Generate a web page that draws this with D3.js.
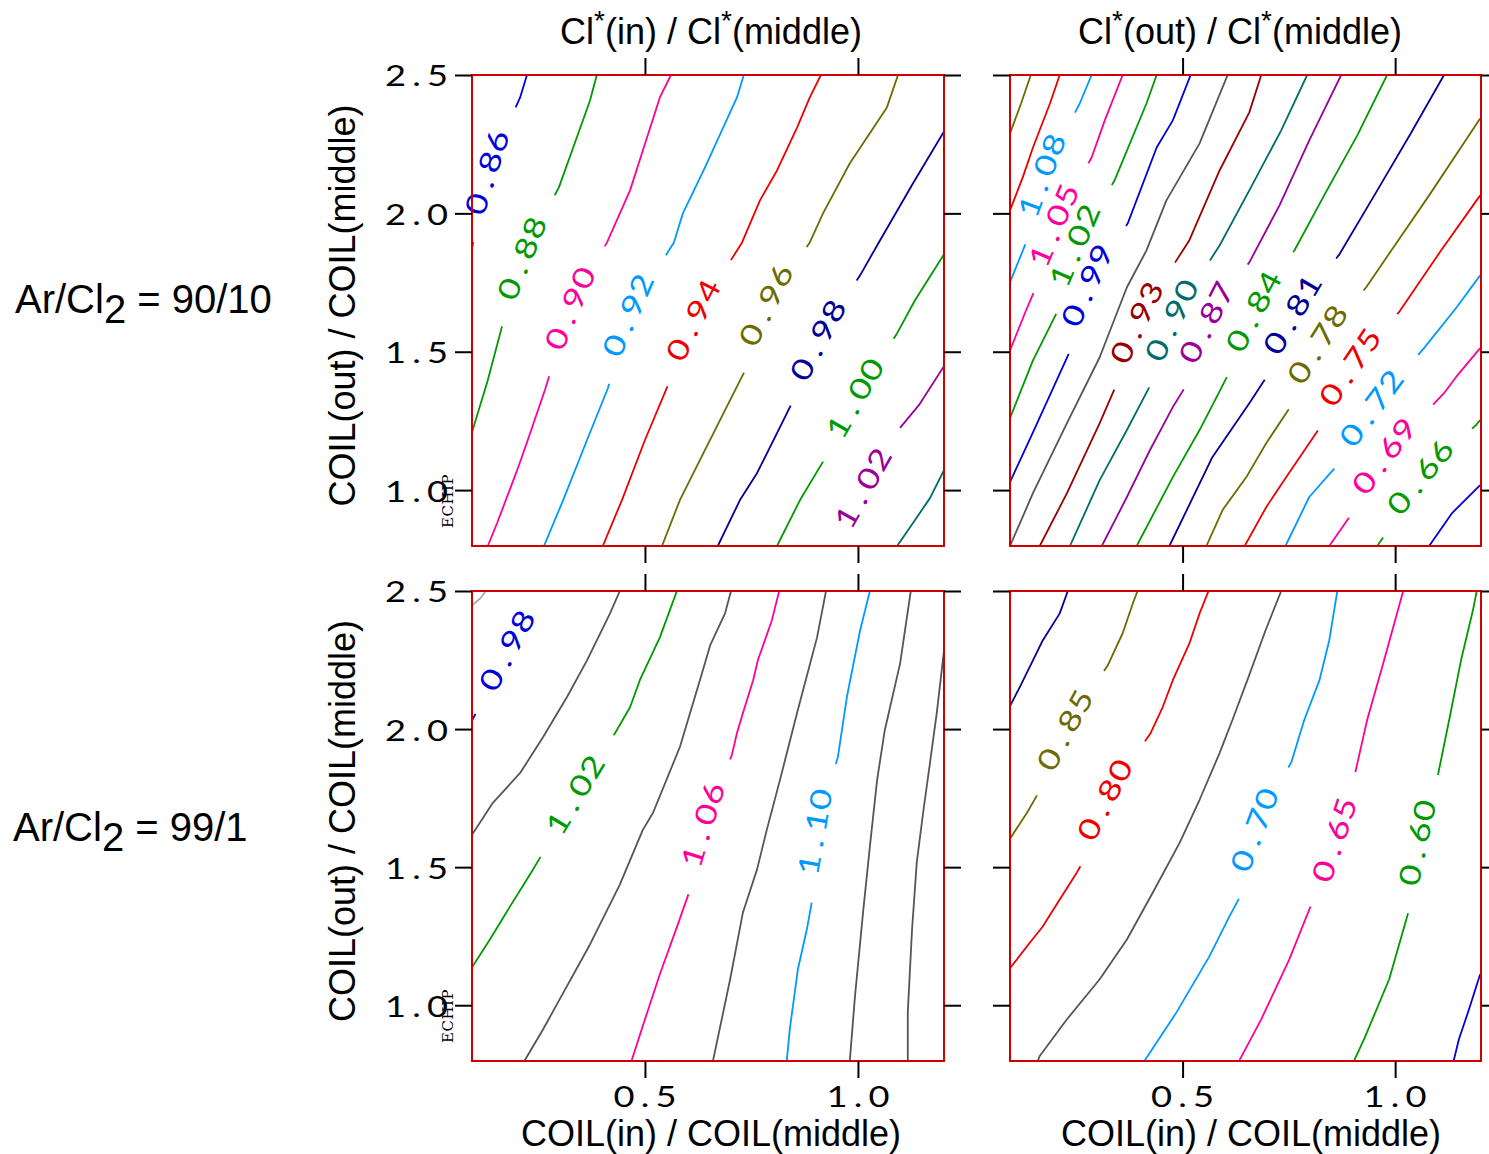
<!DOCTYPE html>
<html>
<head>
<meta charset="utf-8">
<script src="https://cdn.jsdelivr.net/npm/d3@7"></script>
<style>
  html, body { margin: 0; background: #fff; }
  svg { display: block; }
  .title { font-family: "Liberation Sans", Arial, Helvetica, sans-serif; fill: #000; }
  .mono { font-family: Lato, "DejaVu Sans", sans-serif; font-weight: 400; }
</style>
</head>
<body>
<svg id="chart" width="1489" height="1154"></svg>
<script>
// ---- axes ----
const X_DOMAIN = [0.094, 1.202];
const Y_DOMAIN = [0.798, 2.5];
const X_TICKS = [0.5, 1.0];
const Y_TICKS = [1.0, 1.5, 2.0, 2.5];

// ---- contour lines, [COIL(in)/COIL(middle), COIL(out)/COIL(middle)] ----
// "at" = index of the vertex where the level label sits
const contoursA = [ // Ar/Cl2 = 90/10, Cl*(in)/Cl*(middle)
  { level: 0.86, at: 2, pts: [[0.094,1.874],[0.108,1.993],[0.129,2.148],[0.167,2.282],[0.207,2.419],[0.223,2.5]] },
  { level: 0.88, at: 3, pts: [[0.094,1.209],[0.131,1.397],[0.167,1.606],[0.211,1.838],[0.298,2.094],[0.340,2.274],[0.371,2.408],[0.387,2.5]] },
  { level: 0.90, at: 5, pts: [[0.131,0.798],[0.153,0.881],[0.200,1.072],[0.225,1.181],[0.265,1.361],[0.324,1.657],[0.411,1.895],[0.465,2.083],[0.495,2.227],[0.535,2.419],[0.561,2.5]] },
  { level: 0.92, at: 4, pts: [[0.263,0.798],[0.308,0.964],[0.364,1.181],[0.413,1.368],[0.460,1.632],[0.568,1.895],[0.589,2.0],[0.641,2.166],[0.716,2.419],[0.732,2.5]] },
  { level: 0.94, at: 4, pts: [[0.401,0.798],[0.446,0.964],[0.5,1.181],[0.554,1.379],[0.613,1.614],[0.728,1.895],[0.770,2.047],[0.810,2.155],[0.857,2.310],[0.887,2.419],[0.913,2.5]] },
  { level: 0.96, at: 5, pts: [[0.540,0.798],[0.582,0.964],[0.629,1.108],[0.688,1.289],[0.739,1.444],[0.784,1.668],[0.887,1.895],[0.918,2.0],[0.981,2.181],[1.068,2.383],[1.094,2.5]] },
  { level: 0.98, at: 5, pts: [[0.671,0.798],[0.723,0.964],[0.763,1.061],[0.810,1.206],[0.852,1.336],[0.906,1.542],[1.005,1.776],[1.052,1.903],[1.129,2.108],[1.202,2.296]] },
  { level: 1.00, at: 3, pts: [[0.810,0.798],[0.864,0.964],[0.927,1.126],[0.993,1.332],[1.092,1.567],[1.134,1.686],[1.202,1.852]] },
  { level: 1.02, at: 1, pts: [[0.969,0.866],[1.012,1.007],[1.075,1.181],[1.143,1.307],[1.202,1.448]] },
  { level: 1.04, at: null, pts: [[1.092,0.798],[1.134,0.892],[1.169,0.971],[1.202,1.072]] }
];
const colorsA = ["blue","green","pink","sky","red","olive","navy","green","purple","teal"];

const contoursB = [ // Ar/Cl2 = 90/10, Cl*(out)/Cl*(middle)
  { level: 0.63, at: null, pts: [[1.080,0.798],[1.134,0.917],[1.200,1.018]] },
  { level: 0.66, at: 2, pts: [[0.958,0.798],[0.979,0.845],[1.059,1.047],[1.190,1.235],[1.200,1.253]] },
  { level: 0.69, at: 2, pts: [[0.845,0.798],[0.899,0.917],[0.974,1.123],[1.115,1.350],[1.143,1.408],[1.200,1.513]] },
  { level: 0.72, at: 3, pts: [[0.742,0.798],[0.798,0.975],[0.864,1.090],[0.944,1.296],[1.068,1.513],[1.143,1.657],[1.200,1.776]] },
  { level: 0.75, at: 4, pts: [[0.646,0.798],[0.697,0.939],[0.744,1.047],[0.822,1.224],[0.894,1.444],[1.009,1.643],[1.108,1.866],[1.200,2.065]] },
  { level: 0.78, at: 5, pts: [[0.556,0.798],[0.594,0.928],[0.650,1.047],[0.697,1.170],[0.756,1.307],[0.817,1.527],[0.932,1.733],[0.991,1.866],[1.080,2.065],[1.200,2.343]] },
  { level: 0.81, at: 4, pts: [[0.469,0.798],[0.570,1.119],[0.657,1.314],[0.700,1.415],[0.758,1.635],[0.869,1.852],[0.958,2.083],[1.038,2.292],[1.115,2.5]] },
  { level: 0.84, at: 4, pts: [[0.392,0.798],[0.477,1.047],[0.540,1.217],[0.610,1.426],[0.667,1.646],[0.763,1.866],[0.833,2.065],[0.911,2.282],[0.981,2.5]] },
  { level: 0.87, at: 5, pts: [[0.310,0.798],[0.369,0.975],[0.423,1.144],[0.477,1.300],[0.516,1.397],[0.556,1.606],[0.657,1.823],[0.728,2.029],[0.798,2.264],[0.873,2.5]] },
  { level: 0.90, at: 4, pts: [[0.235,0.798],[0.305,1.036],[0.369,1.217],[0.434,1.408],[0.474,1.614],[0.587,1.884],[0.657,2.083],[0.732,2.300],[0.793,2.5]] },
  { level: 0.93, at: 4, pts: [[0.164,0.798],[0.228,0.989],[0.305,1.242],[0.347,1.390],[0.392,1.606],[0.516,1.903],[0.587,2.155],[0.657,2.365],[0.685,2.5]] },
  { level: 0.96, at: null, pts: [[0.094,0.798],[0.148,0.989],[0.228,1.242],[0.305,1.480],[0.369,1.733],[0.415,1.866],[0.462,2.047],[0.540,2.253],[0.606,2.5]] },
  { level: 0.99, at: 4, pts: [[0.094,1.029],[0.148,1.209],[0.204,1.397],[0.239,1.516],[0.275,1.740],[0.371,1.964],[0.439,2.238],[0.477,2.336],[0.519,2.5]] },
  { level: 1.02, at: 3, pts: [[0.094,1.260],[0.148,1.469],[0.207,1.650],[0.246,1.884],[0.340,2.119],[0.415,2.397],[0.439,2.5]] },
  { level: 1.05, at: 3, pts: [[0.094,1.505],[0.129,1.639],[0.157,1.740],[0.197,1.957],[0.286,2.202],[0.317,2.336],[0.359,2.5]] },
  { level: 1.08, at: 2, pts: [[0.094,1.751],[0.134,1.903],[0.169,2.137],[0.258,2.397],[0.286,2.5]] },
  { level: 1.11, at: null, pts: [[0.094,2.011],[0.124,2.130],[0.148,2.238],[0.188,2.397],[0.211,2.5]] },
  { level: 1.14, at: null, pts: [[0.094,2.289],[0.120,2.397],[0.143,2.5]] }
];
const colorsB = ["blue","green","pink","sky","red","olive","navy","green","purple","teal","maroon","gray","blue","green","pink","sky","red","olive"];

const contoursC = [ // Ar/Cl2 = 99/1, Cl*(in)/Cl*(middle)
  { level: 0.96, at: null, pts: [[0.094,2.448],[0.113,2.473],[0.127,2.5]] },
  { level: 0.98, at: 3, pts: [[0.094,2.032],[0.110,2.076],[0.143,2.177],[0.176,2.285],[0.211,2.386],[0.242,2.466],[0.256,2.5]] },
  { level: 1.00, at: null, pts: [[0.094,1.617],[0.143,1.733],[0.207,1.841],[0.261,1.971],[0.317,2.116],[0.364,2.249],[0.418,2.419],[0.441,2.5]] },
  { level: 1.02, at: 5, pts: [[0.094,1.137],[0.136,1.238],[0.183,1.357],[0.230,1.473],[0.265,1.563],[0.336,1.762],[0.430,1.986],[0.465,2.079],[0.488,2.177],[0.535,2.332],[0.575,2.5]] },
  { level: 1.04, at: null, pts: [[0.218,0.801],[0.261,0.913],[0.300,1.022],[0.371,1.220],[0.441,1.437],[0.495,1.635],[0.519,1.697],[0.582,1.935],[0.629,2.177],[0.653,2.303],[0.688,2.419],[0.702,2.5]] },
  { level: 1.06, at: 5, pts: [[0.469,0.801],[0.500,0.949],[0.535,1.112],[0.577,1.292],[0.606,1.419],[0.636,1.653],[0.704,1.906],[0.716,1.986],[0.730,2.058],[0.754,2.177],[0.765,2.249],[0.798,2.394],[0.815,2.5]] },
  { level: 1.08, at: null, pts: [[0.660,0.801],[0.664,0.830],[0.700,1.094],[0.730,1.336],[0.763,1.491],[0.786,1.635],[0.817,1.816],[0.857,2.058],[0.904,2.332],[0.925,2.5]] },
  { level: 1.10, at: 5, pts: [[0.833,0.801],[0.840,0.913],[0.859,1.130],[0.880,1.274],[0.894,1.394],[0.899,1.628],[0.953,1.899],[0.974,2.116],[1.005,2.357],[1.028,2.5]] },
  { level: 1.12, at: null, pts: [[0.981,0.801],[0.993,1.032],[1.012,1.336],[1.028,1.574],[1.045,1.816],[1.063,1.996],[1.099,2.238],[1.124,2.5]] },
  { level: 1.14, at: null, pts: [[1.117,0.801],[1.117,0.975],[1.127,1.274],[1.138,1.516],[1.153,1.697],[1.169,1.877],[1.185,2.058],[1.202,2.285]] }
];
const colorsC = ["silver","blue","gray","green","gray","pink","gray","sky","gray","gray"];

const contoursD = [ // Ar/Cl2 = 99/1, Cl*(out)/Cl*(middle)
  { level: 0.55, at: null, pts: [[1.138,0.801],[1.150,0.877],[1.174,0.986],[1.2,1.112]] },
  { level: 0.60, at: 4, pts: [[0.904,0.801],[0.927,0.877],[0.986,1.094],[1.033,1.347],[1.052,1.588],[1.096,1.798],[1.127,2.032],[1.155,2.249],[1.183,2.430],[1.192,2.5]] },
  { level: 0.65, at: 4, pts: [[0.634,0.801],[0.685,0.949],[0.751,1.166],[0.817,1.419],[0.857,1.599],[0.897,1.780],[0.934,2.032],[0.974,2.249],[1.0,2.394],[1.019,2.5]] },
  { level: 0.70, at: 6, pts: [[0.411,0.801],[0.418,0.816],[0.486,0.975],[0.563,1.177],[0.610,1.321],[0.638,1.401],[0.669,1.635],[0.756,1.881],[0.786,2.032],[0.822,2.177],[0.845,2.321],[0.864,2.5]] },
  { level: 0.75, at: null, pts: [[0.160,0.801],[0.164,0.816],[0.228,0.949],[0.305,1.094],[0.369,1.238],[0.430,1.408],[0.493,1.588],[0.540,1.744],[0.587,1.913],[0.617,2.032],[0.655,2.188],[0.695,2.357],[0.732,2.5]] },
  { level: 0.80, at: 6, pts: [[0.094,1.134],[0.141,1.227],[0.171,1.285],[0.211,1.383],[0.251,1.480],[0.275,1.545],[0.317,1.744],[0.425,1.986],[0.453,2.079],[0.477,2.177],[0.516,2.310],[0.540,2.419],[0.561,2.5]] },
  { level: 0.85, at: 3, pts: [[0.094,1.603],[0.134,1.697],[0.169,1.791],[0.223,1.996],[0.324,2.231],[0.359,2.347],[0.383,2.455],[0.394,2.5]] },
  { level: 0.90, at: null, pts: [[0.094,2.083],[0.117,2.152],[0.148,2.249],[0.171,2.321],[0.211,2.419],[0.230,2.5]] }
];
const colorsD = ["blue","green","pink","sky","gray","red","olive","navy"];

const ROW_RATIOS = ["90/10", "99/1"];
const COL_SPECIES = ["in", "out"];

// ---- styling ----
const PALETTE = {
  blue: "#0000dd", green: "#009900", pink: "#ff0099", sky: "#0099ff",
  red: "#ee0000", olive: "#6b6b00", navy: "#000099", purple: "#990099",
  teal: "#006b6b", maroon: "#990000", gray: "#555555", silver: "#aaaaaa"
};
const COLS = [{ x: 472, w: 472 }, { x: 1010, w: 471 }];
const ROWS = [{ y: 75, h: 471 }, { y: 591, h: 470 }];
const FONT_SIZE = 29, STRETCH = 1.25, TICK = 17;
const TICK_CELL = 21, LABEL_CELL = 22, GAP_PAD = 54;
const fmtLevel = d3.format(".2f");
const fmtTick = d3.format(".1f");

const svg = d3.select("#chart");

// text laid out on a fixed character grid, optionally rotated
function gridText(sel, str, cx, cy, ang, color, cell) {
  const chars = [...str];
  const n = chars.length;
  sel.append("text")
    .attr("class", "mono")
    .attr("transform", `translate(${cx},${cy}) rotate(${ang}) scale(${STRETCH},1)`)
    .attr("x", chars.map((_, i) => ((i - (n - 1) / 2) * cell / STRETCH).toFixed(2)).join(" "))
    .attr("y", chars.map(() => (FONT_SIZE * 0.36).toFixed(2)).join(" "))
    .attr("text-anchor", "middle")
    .attr("font-size", FONT_SIZE)
    .attr("fill", color)
    .text(str);
}

const panels = [
  { row: 0, col: 0, contours: contoursA, colors: colorsA },
  { row: 0, col: 1, contours: contoursB, colors: colorsB },
  { row: 1, col: 0, contours: contoursC, colors: colorsC },
  { row: 1, col: 1, contours: contoursD, colors: colorsD }
];

panels.forEach((p, i) => {
  const { x: px, w } = COLS[p.col];
  const { y: py, h } = ROWS[p.row];
  const g = svg.append("g").attr("transform", `translate(${px},${py})`);
  const x = d3.scaleLinear().domain(X_DOMAIN).range([0, w]);
  const y = d3.scaleLinear().domain(Y_DOMAIN).range([h, 0]);
  const clipId = "panel-clip-" + i;
  g.append("clipPath").attr("id", clipId)
    .append("rect").attr("width", w).attr("height", h);

  const lineLayer = g.append("g").attr("clip-path", `url(#${clipId})`);
  const labelLayer = g.append("g");
  const line = d3.line().x(d => x(d[0])).y(d => y(d[1]));

  p.contours.forEach((c, j) => {
    const color = PALETTE[p.colors[j]];
    const path = lineLayer.append("path")
      .attr("d", line(c.pts))
      .attr("fill", "none")
      .attr("stroke", color)
      .attr("stroke-width", 1.8)
      .attr("stroke-linejoin", "round");
    if (c.at == null) return;
    const node = path.node();
    const L = node.getTotalLength();
    let s = 0;
    for (let k = 1; k <= c.at; k++) {
      s += Math.hypot(x(c.pts[k][0]) - x(c.pts[k - 1][0]), y(c.pts[k][1]) - y(c.pts[k - 1][1]));
    }
    const txt = fmtLevel(c.level);
    const half = (txt.length * LABEL_CELL + GAP_PAD) / 2;
    const a = Math.max(0, s - half), b = Math.min(L, s + half);
    path.attr("stroke-dasharray", `${a} ${b - a} ${L}`);
    const p1 = node.getPointAtLength(a), p2 = node.getPointAtLength(b);
    let ang = Math.atan2(p2.y - p1.y, p2.x - p1.x) * 180 / Math.PI;
    if (ang > 90) ang -= 180;
    if (ang < -90) ang += 180;
    gridText(labelLayer, txt, x(c.pts[c.at][0]), y(c.pts[c.at][1]), ang, color, LABEL_CELL);
  });

  g.append("rect")
    .attr("width", w).attr("height", h)
    .attr("fill", "none").attr("stroke", "#d00000").attr("stroke-width", 2);

  // outward ticks on all four sides
  const tickStyle = sel => {
    sel.select(".domain").remove();
    sel.selectAll("text").remove();
    sel.selectAll("line").attr("stroke", "#000").attr("stroke-width", 2);
  };
  g.append("g").call(d3.axisLeft(y).tickValues(Y_TICKS).tickSize(TICK)).call(tickStyle);
  g.append("g").attr("transform", `translate(${w},0)`)
    .call(d3.axisRight(y).tickValues(Y_TICKS).tickSize(TICK)).call(tickStyle);
  g.append("g").call(d3.axisTop(x).tickValues(X_TICKS).tickSize(TICK)).call(tickStyle);
  g.append("g").attr("transform", `translate(0,${h})`)
    .call(d3.axisBottom(x).tickValues(X_TICKS).tickSize(TICK)).call(tickStyle);

  // tick labels on the outer edges
  if (p.col === 0) {
    Y_TICKS.forEach(v => {
      const s = fmtTick(v);
      gridText(g, s, -24 - s.length * TICK_CELL / 2, y(v) + 1, 0, "#000", TICK_CELL);
    });
    g.append("text")
      .attr("transform", `translate(-19,${h - 18}) rotate(-90)`)
      .attr("font-family", "'DejaVu Serif', serif")
      .attr("font-size", 15)
      .attr("letter-spacing", 0.5)
      .attr("fill", "#000")
      .text("ECHIP");
  }
  if (p.row === 1) {
    X_TICKS.forEach(v => gridText(g, fmtTick(v), x(v), h + 36, 0, "#000", TICK_CELL));
  }
});

// column titles
const topCenters = [711, 1240];
COL_SPECIES.forEach((sp, i) => {
  const t = svg.append("text").attr("class", "title")
    .attr("x", topCenters[i]).attr("y", 44)
    .attr("text-anchor", "middle").attr("font-size", 36);
  t.append("tspan").text("Cl");
  t.append("tspan").attr("dy", -14).attr("font-size", 28).text("*");
  t.append("tspan").attr("dy", 14).text(`(${sp}) / Cl`);
  t.append("tspan").attr("dy", -14).attr("font-size", 28).text("*");
  t.append("tspan").attr("dy", 14).text("(middle)");
});
const bottomCenters = [711, 1251];
bottomCenters.forEach(cx => {
  svg.append("text").attr("class", "title")
    .attr("x", cx).attr("y", 1146)
    .attr("text-anchor", "middle").attr("font-size", 36)
    .text("COIL(in) / COIL(middle)");
});

// row titles
ROWS.forEach((r, i) => {
  svg.append("text").attr("class", "title")
    .attr("transform", `translate(355,${r.y + r.h / 2 - 5}) rotate(-90)`)
    .attr("text-anchor", "middle").attr("font-size", 36)
    .text("COIL(out) / COIL(middle)");
  const t = svg.append("text").attr("class", "title")
    .attr("x", i === 0 ? 15 : 13).attr("y", r.y + r.h / 2 + 2 + (i === 0 ? 0 : 13))
    .attr("font-size", 40);
  t.append("tspan").text("Ar/Cl");
  t.append("tspan").attr("dy", 10).text("2");
  t.append("tspan").attr("dy", -10).text(` = ${ROW_RATIOS[i]}`);
});
</script>
</body>
</html>
